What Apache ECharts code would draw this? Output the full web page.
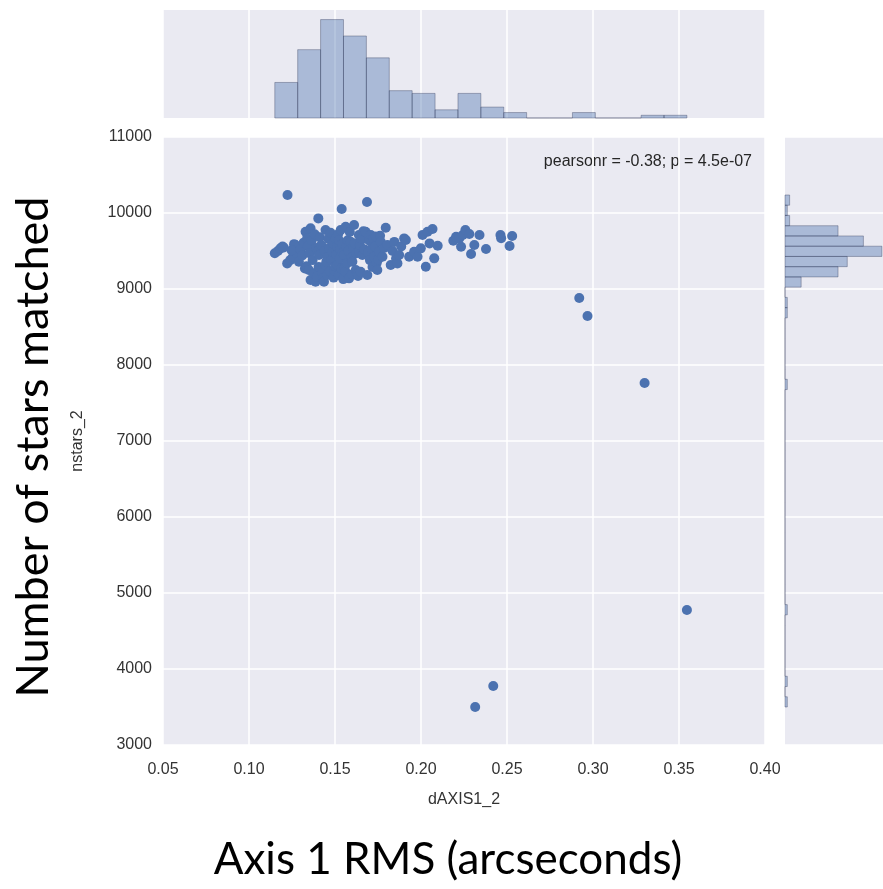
<!DOCTYPE html>
<html>
<head>
<meta charset="utf-8">
<script src="https://cdn.jsdelivr.net/npm/echarts@6/dist/echarts.min.js"></script>
<style>
  html, body { margin: 0; padding: 0; background: #fff; }
  #chart { width: 883px; height: 889px; }
</style>
</head>
<body>
<div id="chart"></div>
<script>
// jointplot: dAXIS1_2 (x) vs nstars_2 (y), marginal histograms top and right

// one [dAXIS1_2, nstars_2] pair per exposure
const points = [
  [0.1150,9470],[0.1168,9500],[0.1183,9535],[0.1195,9560],[0.1202,9545],[0.1222,9337],[0.1240,9380],
  [0.1255,9420],[0.1262,9590],[0.1270,9579],[0.1278,9469],[0.1224,10237],[0.1248,9510],
  [0.1290,9360],[0.1300,9520],[0.1310,9440],[0.1318,9610],[0.1325,9270],[0.1329,9754],[0.1335,9300],
  [0.1338,9666],[0.1342,9560],[0.1348,9250],[0.1352,9470],[0.1358,9798],[0.1358,9118],[0.1365,9640],
  [0.1370,9380],[0.1377,9206],[0.1382,9720],[0.1387,9096],[0.1390,9540],[0.1395,9160],[0.1400,9500],
  [0.1403,9929],[0.1405,9290],[0.1407,9447],[0.1412,9680],
  [0.1420,9579],[0.1423,9250],[0.1426,9210],[0.1430,9140],[0.1436,9096],[0.1440,9500],[0.1445,9776],
  [0.1445,9315],[0.1450,9360],[0.1455,9184],[0.1458,9420],[0.1462,9660],[0.1466,9540],[0.1470,9230],
  [0.1474,9740],[0.1478,9380],[0.1484,9491],[0.1488,9600],[0.1492,9150],[0.1496,9240],[0.1500,9300],
  [0.1504,9666],[0.1508,9450],[0.1512,9560],[0.1514,9315],[0.1518,9720],[0.1522,9184],[0.1523,9640],
  [0.1527,9400],[0.1530,9520],[0.1533,9776],[0.1536,9270],[0.1539,10053],[0.1542,9590],[0.1545,9480],
  [0.1548,9130],
  [0.1552,9447],[0.1556,9280],[0.1560,9230],[0.1562,9820],[0.1566,9560],[0.1570,9340],[0.1574,9640],
  [0.1578,9500],[0.1582,9140],[0.1586,9750],[0.1591,9622],[0.1595,9410],[0.1598,9190],[0.1601,9359],
  [0.1605,9540],[0.1611,9842],[0.1615,9600],[0.1621,9250],[0.1625,9470],[0.1630,9200],[0.1634,9170],
  [0.1639,9710],[0.1640,9491],[0.1645,9580],[0.1649,9228],[0.1655,9660],[0.1659,9447],[0.1665,9760],
  [0.1672,9520],[0.1678,9754],
  [0.1686,10145],[0.1688,9184],[0.1692,9480],[0.1698,9640],[0.1703,9380],[0.1708,9710],[0.1712,9530],
  [0.1718,9290],[0.1722,9666],[0.1727,9425],[0.1732,9560],[0.1737,9690],[0.1742,9340],[0.1746,9250],
  [0.1751,9390],[0.1756,9491],[0.1762,9700],[0.1766,9622],[0.1776,9425],[0.1786,9540],[0.1795,9807],
  [0.1805,9579],
  [0.1824,9315],[0.1835,9500],[0.1845,9620],[0.1855,9400],[0.1863,9337],[0.1873,9447],[0.1885,9560],
  [0.1902,9666],[0.1912,9644],[0.1931,9425],
  [0.1960,9491],[0.1980,9425],[0.1999,9535],[0.2009,9710],[0.2028,9293],[0.2038,9754],[0.2050,9600],
  [0.2067,9789],[0.2077,9403],
  [0.2097,9570],[0.2188,9636],[0.2204,9688],
  [0.2223,9667],[0.2233,9557],[0.2243,9711],[0.2258,9776],[0.2281,9724],[0.2291,9461],[0.2310,9579],
  [0.2340,9711],
  [0.2378,9526],[0.2462,9711],[0.2466,9667],
  [0.2515,9566],[0.2530,9697],
  [0.2315,3500],[0.2420,3776],[0.3546,4776],[0.3300,7763],[0.2920,8882],[0.2968,8645]
];

// axis ticks
const xTicks = [0.05, 0.10, 0.15, 0.20, 0.25, 0.30, 0.35, 0.40];
const yTicks = [3000, 4000, 5000, 6000, 7000, 8000, 9000, 10000, 11000];

// marginal histogram of dAXIS1_2 (18 bins from min to max)
const xHistMin = 0.115, xHistMax = 0.3546;
const xHistCounts = [13, 25, 36, 30, 22, 10, 9, 3, 9, 4, 2, 0, 0, 2, 0, 0, 1, 1];

// marginal histogram of nstars_2 (50 bins, bottom to top)
const yHistMin = 3500, yHistMax = 10237;
const yHistCounts = [
  1, 0, 1, 0, 0, 0, 0, 0, 0, 1,
  0, 0, 0, 0, 0, 0, 0, 0, 0, 0,
  0, 0, 0, 0, 0, 0, 0, 0, 0, 0,
  0, 1, 0, 0, 0, 0, 0, 0, 1, 1,
  0, 7, 23, 27, 42, 34, 23, 2, 1, 2
];

const statLabel = 'pearsonr = -0.38; p = 4.5e-07';
const xName = 'dAXIS1_2';
const yName = 'nstars_2';
const xTitle = 'Axis 1 RMS (arcseconds)';
const yTitle = 'Number of stars matched';

// bins -> [lo, hi, count]
function toBins(min, max, counts) {
  const w = (max - min) / counts.length;
  return counts.map((c, i) => [min + i * w, min + (i + 1) * w, c]);
}

const BG = '#EAEAF2';
const DOT = '#4C72B0';
const BAR_FILL = 'rgba(76,114,176,0.4)';
const BAR_EDGE = 'rgba(40,50,80,0.35)';
const TXT = '#333';
const FONT = "'Liberation Sans', Arial, sans-serif";

const gridLine = { show: true, lineStyle: { color: '#fff', width: 1.5 } };

const chart = echarts.init(document.getElementById('chart'));

chart.setOption({
  animation: false,
  backgroundColor: '#fff',
  grid: [
    { left: 163, top: 137, width: 602, height: 608, show: true, backgroundColor: BG, borderWidth: 0 },
    { left: 163, top: 10, width: 602, height: 108, show: true, backgroundColor: BG, borderWidth: 0 },
    // right marginal runs off the page edge, like the reference
    { left: 785, top: 137, width: 98, height: 608, show: true, backgroundColor: BG, borderWidth: 0 }
  ],
  xAxis: [
    {
      gridIndex: 0, type: 'value',
      min: xTicks[0], max: xTicks[xTicks.length - 1], interval: 0.05,
      axisLine: { show: false }, axisTick: { show: false },
      axisLabel: { color: TXT, fontSize: 16, fontFamily: FONT, margin: 17, formatter: v => v.toFixed(2) },
      splitLine: gridLine,
      name: xName, nameLocation: 'middle', nameGap: 47,
      nameTextStyle: { color: TXT, fontSize: 16, fontFamily: FONT }
    },
    {
      gridIndex: 1, type: 'value',
      min: xTicks[0], max: xTicks[xTicks.length - 1], interval: 0.05,
      axisLine: { show: false }, axisTick: { show: false }, axisLabel: { show: false },
      splitLine: gridLine
    },
    {
      gridIndex: 2, type: 'value', min: 0, max: 42.5, show: false
    }
  ],
  yAxis: [
    {
      gridIndex: 0, type: 'value',
      min: yTicks[0], max: yTicks[yTicks.length - 1], interval: 1000,
      axisLine: { show: false }, axisTick: { show: false },
      axisLabel: { color: TXT, fontSize: 16, fontFamily: FONT, margin: 11, formatter: v => String(v) },
      splitLine: gridLine,
      name: yName, nameLocation: 'middle', nameGap: 77,
      nameTextStyle: { color: TXT, fontSize: 16, fontFamily: FONT }
    },
    {
      gridIndex: 1, type: 'value', min: 0, max: 39.5, show: false
    },
    {
      gridIndex: 2, type: 'value',
      min: yTicks[0], max: yTicks[yTicks.length - 1], interval: 1000,
      axisLine: { show: false }, axisTick: { show: false }, axisLabel: { show: false },
      splitLine: gridLine
    }
  ],
  graphic: [
    {
      type: 'text', x: 752, y: 162,
      style: { text: statLabel, fill: '#262626', fontSize: 16, fontFamily: FONT, align: 'right', verticalAlign: 'middle' }
    },
    {
      type: 'text', x: 448, y: 860,
      style: { text: xTitle, fill: '#000', fontSize: 44, fontFamily: 'Lato', align: 'center', verticalAlign: 'middle' }
    },
    {
      type: 'text', x: 33, y: 447, rotation: Math.PI / 2,
      style: { text: yTitle, fill: '#000', fontSize: 45, fontFamily: 'Lato', align: 'center', verticalAlign: 'middle' }
    }
  ],
  series: [
    {
      type: 'scatter', xAxisIndex: 0, yAxisIndex: 0,
      symbolSize: 10,
      itemStyle: { color: DOT, opacity: 1 },
      data: points
    },
    {
      type: 'custom', xAxisIndex: 1, yAxisIndex: 1,
      encode: { x: [0, 1], y: 2 },
      data: toBins(xHistMin, xHistMax, xHistCounts),
      renderItem: (params, api) => {
        const p0 = api.coord([api.value(0), 0]);
        const p1 = api.coord([api.value(1), api.value(2)]);
        return {
          type: 'rect',
          shape: { x: p0[0], y: p1[1], width: p1[0] - p0[0], height: p0[1] - p1[1] },
          style: { fill: BAR_FILL, stroke: BAR_EDGE, lineWidth: 1 }
        };
      }
    },
    {
      type: 'custom', xAxisIndex: 2, yAxisIndex: 2,
      encode: { y: [0, 1], x: 2 },
      data: toBins(yHistMin, yHistMax, yHistCounts),
      renderItem: (params, api) => {
        const p0 = api.coord([0, api.value(0)]);
        const p1 = api.coord([api.value(2), api.value(1)]);
        return {
          type: 'rect',
          shape: { x: p0[0], y: p1[1], width: p1[0] - p0[0], height: p0[1] - p1[1] },
          style: { fill: BAR_FILL, stroke: BAR_EDGE, lineWidth: 1 }
        };
      }
    }
  ]
});
</script>
</body>
</html>
